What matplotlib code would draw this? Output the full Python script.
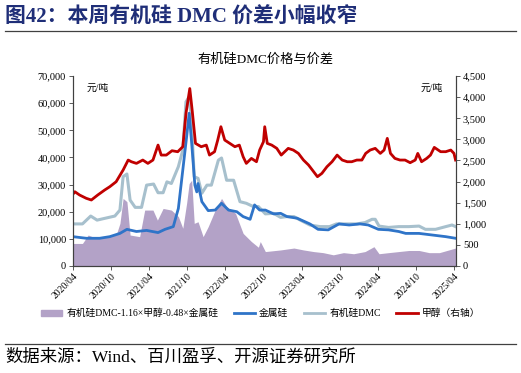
import numpy as np
import matplotlib.pyplot as plt
from matplotlib.patches import Patch
from matplotlib.lines import Line2D

plt.rcParams['font.family'] = ['Liberation Serif', 'Noto Sans CJK SC']

# x = months since 2020/04
tick_pos = [0, 6, 12, 18, 24, 30, 36, 42, 48, 54, 60]
tick_labels = ['2020/04', '2020/10', '2021/04', '2021/10', '2022/04', '2022/10',
               '2023/04', '2023/10', '2024/04', '2024/10', '2025/04']

# 甲醇 (right axis, 元/吨)
meoh_m = [0, 0.3, 1.05, 2.1, 2.9, 3.9, 5.0, 5.8, 6.8, 7.9, 8.7, 9.2, 10.0, 11.0, 11.8,
          12.6, 13.4, 13.9, 14.7, 15.6, 16.5, 17.3, 17.8, 18.4, 18.8, 19.3, 20.2, 21.0,
          21.5, 22.3, 22.8, 23.3, 23.9, 24.7, 25.5, 26.2, 26.8, 27.3, 28.1, 28.9, 29.4,
          30.0, 30.2, 30.6, 31.3, 32.1, 32.8, 33.9, 34.7, 35.5, 36.3, 37.1, 37.9, 38.5,
          39.2, 40.0, 40.8, 41.6, 42.4, 43.2, 43.9, 44.7, 45.5, 46.1, 46.8, 47.6, 48.4,
          49.0, 49.5, 50.0, 50.7, 51.5, 52.3, 53.1, 53.9, 54.3, 54.9, 55.7, 56.3, 56.9,
          57.9, 58.7, 59.5, 60.0, 60.25]
meoh_v = [1700, 1759, 1681, 1603, 1563, 1681, 1800, 1878, 1996, 2273, 2510, 2470, 2431,
          2510, 2431, 2510, 2865, 2628, 2628, 2731, 2707, 2826, 3616, 4205, 3654, 2905,
          2826, 2865, 2628, 2707, 2984, 3300, 2984, 2905, 2826, 2865, 2589, 2431, 2549,
          2470, 2747, 2944, 3300, 2905, 2865, 2787, 2628, 2787, 2747, 2668, 2510, 2392,
          2234, 2115, 2194, 2352, 2470, 2628, 2510, 2470, 2470, 2510, 2510, 2668, 2747,
          2787, 2668, 2747, 3024, 2668, 2549, 2510, 2510, 2447, 2510, 2668, 2470, 2549,
          2628, 2810, 2708, 2708, 2747, 2668, 2510]

# 有机硅DMC
dmc_m = [0, 1.5, 2.8, 3.8, 5.1, 6.6, 7.4, 7.9, 8.5, 9.0, 9.8, 10.8, 11.6, 12.7, 13.4,
         14.2, 14.8, 15.5, 16.6, 17.3, 17.8, 18.2, 18.6, 19.1, 19.7, 20.3, 21.1, 21.8,
         22.9, 23.4, 24.2, 25.3, 26.3, 27.3, 28.4, 29.2, 30.3, 31.6, 32.7, 33.7, 34.8,
         35.8, 37.3, 38.9, 40.4, 41.5, 43.1, 44.7, 46.0, 47.1, 47.6, 48.2, 49.7, 51.3,
         52.9, 54.5, 55.5, 57.1, 58.7, 59.7, 60.25]
dmc_v = [15500, 15500, 18400, 16900, 17600, 18400, 20600, 32900, 33900, 24300, 21600,
         21600, 29800, 30200, 27000, 27000, 31000, 30400, 36600, 42700, 60500, 62000,
         56000, 32900, 32300, 26800, 29800, 29800, 39000, 39800, 31600, 31600, 23700,
         23100, 21900, 21900, 19200, 19400, 17900, 18200, 18200, 16900, 15100, 14500,
         14500, 15500, 15500, 15500, 16000, 17200, 17200, 14700, 14200, 14500, 14500,
         14700, 13500, 13500, 14500, 15100, 14500]

# 金属硅
si_m = [0, 2.1, 4.2, 5.8, 7.4, 8.5, 10.0, 11.6, 13.4, 14.5, 15.8, 16.6, 17.3, 17.9, 18.3,
        18.7, 19.2, 19.5, 19.7, 20.3, 21.3, 22.4, 23.4, 24.5, 25.8, 26.8, 27.9, 28.6,
        29.4, 30.3, 31.6, 32.7, 33.7, 35.3, 37.3, 38.6, 40.2, 41.9, 43.5, 45.2, 46.5,
        48.1, 49.7, 51.3, 52.4, 54.5, 56.6, 58.7, 60.25]
si_v = [10800, 10200, 10200, 10800, 12000, 13500, 12700, 13100, 12300, 13500, 14500,
        21200, 35400, 47600, 56300, 45200, 29800, 27300, 30400, 23700, 20400, 20600,
        23100, 20600, 20000, 18200, 17200, 22500, 20600, 20600, 19200, 19400, 18200,
        17600, 15500, 13500, 13300, 15500, 15100, 15500, 15100, 13500, 13300, 12700,
        12000, 12000, 11400, 10800, 10200]

# 有机硅DMC-1.16×甲醇-0.48×金属硅
spread_m = [0, 1.5, 2.4, 3.7, 5.1, 6.8, 7.4, 7.9, 8.5, 9.0, 10.5, 11.3, 12.6, 13.3, 14.2,
            15.5, 16.6, 17.3, 17.9, 18.3, 18.7, 19.1, 19.7, 20.5, 21.3, 22.4, 23.4, 24.2,
            25.6, 26.8, 28.1, 29.2, 29.5, 30.3, 32.7, 34.8, 36.3, 37.9, 39.4, 41.0, 42.6,
            44.2, 46.0, 47.4, 48.2, 49.7, 51.3, 52.9, 54.5, 56.1, 57.7, 59.2, 60.25]
spread_v = [8300, 8300, 11400, 10200, 10800, 11400, 15700, 24900, 23700, 11400, 10800,
            20600, 20600, 16900, 21200, 20600, 18200, 13900, 23100, 30400, 31600, 15700,
            16300, 10800, 14500, 20600, 24900, 21900, 19400, 12000, 9000, 6900, 9000,
            5300, 5900, 6600, 5900, 5300, 4900, 4100, 4900, 4500, 5300, 7100, 4500, 4900,
            5300, 5700, 5700, 4900, 4900, 5900, 6600]

c_purple = '#B3A2C7'
c_blue = '#2F74C8'
c_lblue = '#A7C0CD'
c_red = '#C00000'

fig = plt.figure(figsize=(5.21, 3.73), dpi=100)
ax = fig.add_axes([0.140, 0.287, 0.735, 0.509])
ax2 = ax.twinx()

ax.fill_between(spread_m, spread_v, 0, color=c_purple, lw=0, zorder=1)
ax.plot(dmc_m, dmc_v, color=c_lblue, lw=2.2, zorder=2)
ax.plot(si_m, si_v, color=c_blue, lw=2.0, zorder=3)
ax2.plot(meoh_m, meoh_v, color=c_red, lw=2.0)

ax.set_xlim(0, 60.3)
ax.set_ylim(0, 70000)
ax2.set_ylim(0, 4500)
ax.set_yticks(np.arange(0, 70001, 10000))
ax.set_yticklabels([f'{v:,}' for v in range(0, 70001, 10000)])
ax2.set_yticks(np.arange(0, 4501, 500))
ax2.set_yticklabels([f'{v:,}' for v in range(0, 4501, 500)])
ax.set_xticks(tick_pos)
ax.set_xticklabels(tick_labels, rotation=45, ha='right', rotation_mode='anchor')

for a in (ax, ax2):
    a.spines['top'].set_visible(False)
    for s in ('left', 'right', 'bottom'):
        a.spines[s].set_color('#404040')
        a.spines[s].set_linewidth(0.8)
    a.tick_params(labelsize=7.5, length=3, width=0.6, color='#404040', pad=2)
ax.tick_params(axis='x', labelsize=7, pad=1)

ax.text(0.035, 0.96, '元/吨', transform=ax.transAxes, fontsize=7, va='top', ha='left')
ax2.text(0.965, 0.96, '元/吨', transform=ax.transAxes, fontsize=7, va='top', ha='right')

fig.text(0.51, 0.84, '有机硅DMC价格与价差', fontsize=9.5, ha='center', va='center')

fig.text(0.010, 0.952, '图42：本周有机硅 DMC 价差小幅收窄', fontsize=15, fontweight='bold',
         color='#1F2E78', ha='left', va='center')
fig.add_artist(Line2D([0.01, 0.99], [0.917, 0.917], color='#404040', lw=0.9))
fig.add_artist(Line2D([0.01, 0.99], [0.077, 0.077], color='#404040', lw=0.9))
fig.text(0.010, 0.042, '数据来源：Wind、百川盈孚、开源证券研究所', fontsize=12.5,
         ha='left', va='center')

handles = [Patch(color=c_purple), Line2D([], [], color=c_blue, lw=2),
           Line2D([], [], color=c_lblue, lw=2), Line2D([], [], color=c_red, lw=2)]
labels = ['有机硅DMC-1.16×甲醇-0.48×金属硅', '金属硅', '有机硅DMC', '甲醇（右轴）']
fig.legend(handles, labels, loc='center', bbox_to_anchor=(0.5, 0.16), ncol=4,
           frameon=False, fontsize=7, handlelength=2.2, handleheight=0.6,
           columnspacing=1.6, handletextpad=0.4)

fig.savefig('out.png', dpi=100)
